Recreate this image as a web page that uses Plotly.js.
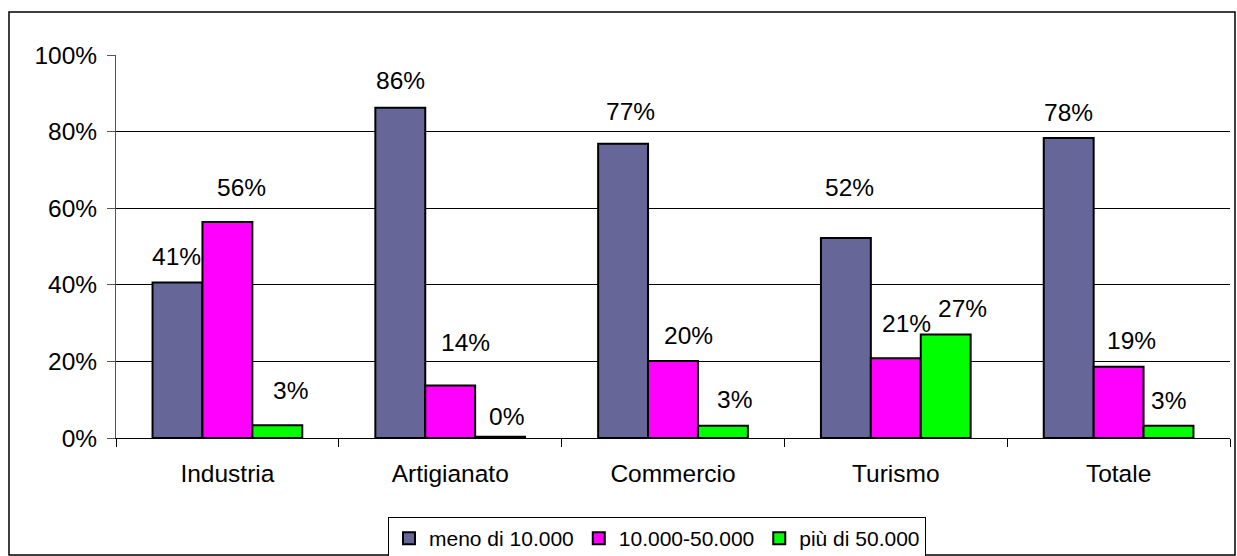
<!DOCTYPE html>
<html>
<head>
<meta charset="utf-8">
<script src="https://cdn.plot.ly/plotly-3.0.1.min.js"></script>
<style>html,body{margin:0;padding:0;background:#fff;}#chart{width:1237px;height:556px;}</style>
</head>
<body>
<div id="chart"></div>
<script>
const categories = ["Industria", "Artigianato", "Commercio", "Turismo", "Totale"];
const seriesNames = ["meno di 10.000", "10.000-50.000", "più di 50.000"];
const meno10000 = [0.406, 0.862, 0.768, 0.522, 0.783];
const da10000a50000 = [0.564, 0.137, 0.201, 0.208, 0.186];
const piu50000 = [0.033, 0.003, 0.032, 0.270, 0.032];
const yTickVals = [0, 0.2, 0.4, 0.6, 0.8, 1.0];
const yTickText = ["0%", "20%", "40%", "60%", "80%", "100%"];

const seriesValues = [meno10000, da10000a50000, piu50000];
const colors = ["#666699", "#FF00FF", "#00FF00"];
const FONT = "Liberation Sans, Arial, sans-serif";

// label placement style (pixel nudges, Excel-like label positions)
const labelDx = [[-1, 0, 7, 4, 0], [14, 15, 15, 11, 13], [13, 6, 12, 17, 0]];
const labelLift = [[26, 27, 32, 51, 26], [34, 43, 26, 35, 26], [35, 20, 26, 26, 25]];

const L = 116, R = 7, T = 55, B = 118, W = 1237, H = 556;
const pw = W - L - R, ph = H - T - B;
const bargap = 0.328;
const barPx = pw / categories.length * (1 - bargap) / 3;

const traces = seriesValues.map((vals, i) => ({
  type: "bar",
  name: seriesNames[i],
  x: categories,
  y: vals,
  marker: {color: colors[i], line: {color: "#000", width: 2}},
  hoverinfo: "none"
}));

const annotations = [];
seriesValues.forEach((vals, i) => {
  vals.forEach((v, j) => {
    annotations.push({
      x: categories[j], y: v, xref: "x", yref: "y",
      text: Math.round(v * 100) + "%",
      showarrow: false,
      xanchor: "center", yanchor: "middle",
      xshift: (i - 1) * barPx + labelDx[i][j],
      yshift: labelLift[i][j],
      font: {family: FONT, size: 24.5, color: "#000"}
    });
  });
});

const layout = {
  width: W, height: H,
  margin: {l: L, r: R, t: T, b: B, pad: 0, autoexpand: false},
  paper_bgcolor: "#fff", plot_bgcolor: "#fff",
  barmode: "group", bargap: bargap, bargroupgap: 0,
  showlegend: true,
  font: {family: FONT, size: 24.5, color: "#000"},
  xaxis: {
    type: "category",
    tickson: "boundaries",
    ticks: "outside", ticklen: 8, tickcolor: "#000", tickwidth: 1,
    showline: true, linecolor: "#000", linewidth: 1,
    showgrid: false, zeroline: false,
    tickfont: {family: FONT, size: 24.5, color: "#000"},
    ticklabelstandoff: 14,
    fixedrange: true
  },
  yaxis: {
    range: [0, 1],
    tickvals: yTickVals, ticktext: yTickText,
    ticks: "outside", ticklen: 8, tickcolor: "#555", tickwidth: 1,
    showline: true, linecolor: "#555", linewidth: 1,
    showgrid: true, gridcolor: "#000", gridwidth: 1,
    zeroline: false,
    tickfont: {family: FONT, size: 24.5, color: "#000"},
    ticklabelstandoff: 5,
    fixedrange: true
  },
  legend: {
    orientation: "h",
    xref: "container", yref: "container",
    x: 657 / W, xanchor: "center",
    y: (H - 517) / H, yanchor: "top",
    bordercolor: "#000", borderwidth: 1, bgcolor: "#fff",
    font: {family: FONT, size: 21, color: "#000"},
    itemwidth: 30,
    traceorder: "normal"
  },
  annotations: annotations,
  shapes: [{
    type: "rect", xref: "paper", yref: "paper",
    x0: (9 - L) / pw, x1: (1235 - L) / pw,
    y0: (H - B - 555) / ph, y1: (H - B - 12) / ph,
    line: {color: "#000", width: 1.5}, fillcolor: "rgba(0,0,0,0)", layer: "below"
  }]
};

Plotly.newPlot("chart", traces, layout, {staticPlot: true, displayModeBar: false});
</script>
</body>
</html>
